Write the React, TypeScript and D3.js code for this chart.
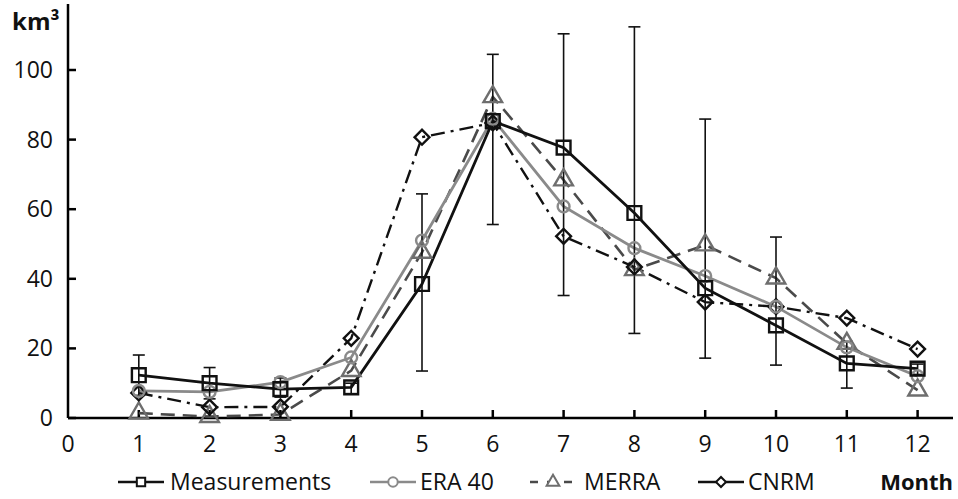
import React from "react";
import * as d3 from "d3";

const months = [1, 2, 3, 4, 5, 6, 7, 8, 9, 10, 11, 12];
const measurements = [12.3, 10, 8.3, 8.8, 38.5, 85.3, 77.7, 58.9, 37.3, 26.6, 15.7, 14.2];
const errLow = [6.5, 5.5, 6, 7, 13.5, 55.6, 35.2, 24.3, 17.2, 15.2, 8.6, 12.5];
const errHigh = [18.1, 14.5, 11.5, 10, 64.4, 104.5, 110.4, 112.4, 85.9, 52, 22, 15.5];
const era40 = [7.8, 7.5, 10.3, 17.4, 51, 86, 60.8, 48.8, 40.8, 32, 20.3, 12];
const merra = [1.4, 0.4, 1, 13.6, 47.6, 92.3, 68.4, 42.6, 49.7, 40.2, 21.4, 8];
const cnrm = [7.2, 3.1, 3.2, 22.9, 80.7, 84.8, 52.2, 43.4, 33.3, 32, 28.7, 19.8];
const xTicks = [0, 1, 2, 3, 4, 5, 6, 7, 8, 9, 10, 11, 12];
const yTicks = [0, 20, 40, 60, 80, 100];

const FONT = "'Open Sans', sans-serif";

type Marker = "square" | "circle" | "triangle" | "diamond";

function markerPath(type: Marker, size: number) {
  const sym =
    type === "square" || type === "diamond" ? d3.symbolSquare : type === "circle" ? d3.symbolCircle : d3.symbolTriangle;
  return d3.symbol().type(sym).size(size)()!;
}

const series = [
  { name: "MERRA", values: merra, color: "#4a4a4a", markerColor: "#6e6e6e", dash: "14,8", marker: "triangle" as Marker, size: 150, width: 2.6 },
  { name: "CNRM", values: cnrm, color: "#111", markerColor: "#111", dash: "14,6,3,6", marker: "diamond" as Marker, size: 110, width: 2.4 },
  { name: "ERA 40", values: era40, color: "#8a8a8a", markerColor: "#8a8a8a", dash: "", marker: "circle" as Marker, size: 110, width: 2.8 },
  { name: "Measurements", values: measurements, color: "#111", markerColor: "#111", dash: "", marker: "square" as Marker, size: 190, width: 2.8 },
];

const legendItems = [
  { s: series[3], x0: 118, tx: 170 },
  { s: series[2], x0: 370, tx: 420 },
  { s: series[0], x0: 530, tx: 584 },
  { s: series[1], x0: 698, tx: 748 },
];

export default function App() {
  const W = 958, H = 499;
  const x = d3.scaleLinear().domain([0, 12.5]).range([68, 953]);
  const y = d3.scaleLinear().domain([0, 100]).range([418, 70]);
  const line = d3.line<number>().x((_, i) => x(months[i])).y((d) => y(d));
  const rot = (m: Marker) => (m === "diamond" ? " rotate(45)" : "");

  return (
    <svg width={W} height={H} style={{ position: "absolute", left: 0, top: 0, background: "#fff" }} fontFamily={FONT}>
      <rect width={W} height={H} fill="#fff" />
      {/* axes */}
      <line x1={x(0)} x2={x(0)} y1={y(119)} y2={y(0)} stroke="#000" strokeWidth={2.5} />
      <line x1={x(0)} x2={x(12.5)} y1={y(0)} y2={y(0)} stroke="#000" strokeWidth={2.5} />
      {yTicks.map((t) => (
        <g key={"y" + t}>
          <line x1={x(0)} x2={x(0) + 8} y1={y(t)} y2={y(t)} stroke="#000" strokeWidth={2.5} />
          <text x={53} y={y(t) + 8} textAnchor="end" fontSize={23} fill="#111">{t}</text>
        </g>
      ))}
      {xTicks.map((t) => (
        <g key={"x" + t}>
          {t > 0 && <line x1={x(t)} x2={x(t)} y1={y(0)} y2={y(0) - 8} stroke="#000" strokeWidth={2.5} />}
          <text x={x(t)} y={452} textAnchor="middle" fontSize={23} fill="#111">{t}</text>
        </g>
      ))}
      <text x={12} y={30} fontSize={24} fontWeight="bold" fill="#111">km³</text>
      <text x={953} y={490} textAnchor="end" fontSize={22} fontWeight="bold" fill="#111">Month</text>

      {/* lines */}
      {series.map((s) => (
        <path key={s.name} d={line(s.values)!} fill="none" stroke={s.color} strokeWidth={s.width} strokeDasharray={s.dash || undefined} />
      ))}
      {/* error bars */}
      {months.map((m, i) => (
        <g key={"e" + m} stroke="#111" strokeWidth={1.6}>
          <line x1={x(m)} x2={x(m)} y1={y(errLow[i])} y2={y(errHigh[i])} />
          <line x1={x(m) - 6} x2={x(m) + 6} y1={y(errLow[i])} y2={y(errLow[i])} />
          <line x1={x(m) - 6} x2={x(m) + 6} y1={y(errHigh[i])} y2={y(errHigh[i])} />
        </g>
      ))}
      {/* markers */}
      {series.map((s) =>
        s.values.map((v, i) => (
          <path
            key={s.name + i}
            d={markerPath(s.marker, s.size)}
            transform={`translate(${x(months[i])},${y(v)})${rot(s.marker)}`}
            fill="none"
            stroke={s.markerColor}
            strokeWidth={2.4}
          />
        ))
      )}
      {/* legend */}
      {legendItems.map(({ s, x0, tx }) => (
        <g key={"l" + s.name}>
          <line x1={x0} x2={x0 + 46} y1={482} y2={482} stroke={s.color} strokeWidth={2.6} strokeDasharray={s.name === "MERRA" ? "8,9" : undefined} />
          <path d={markerPath(s.marker, s.marker === "diamond" ? 50 : 70)} transform={`translate(${x0 + 23},482)${rot(s.marker)}`} fill="#fff" stroke={s.markerColor} strokeWidth={2} />
          <text x={tx} y={490} fontSize={23} fill="#111">{s.name}</text>
        </g>
      ))}
    </svg>
  );
}
